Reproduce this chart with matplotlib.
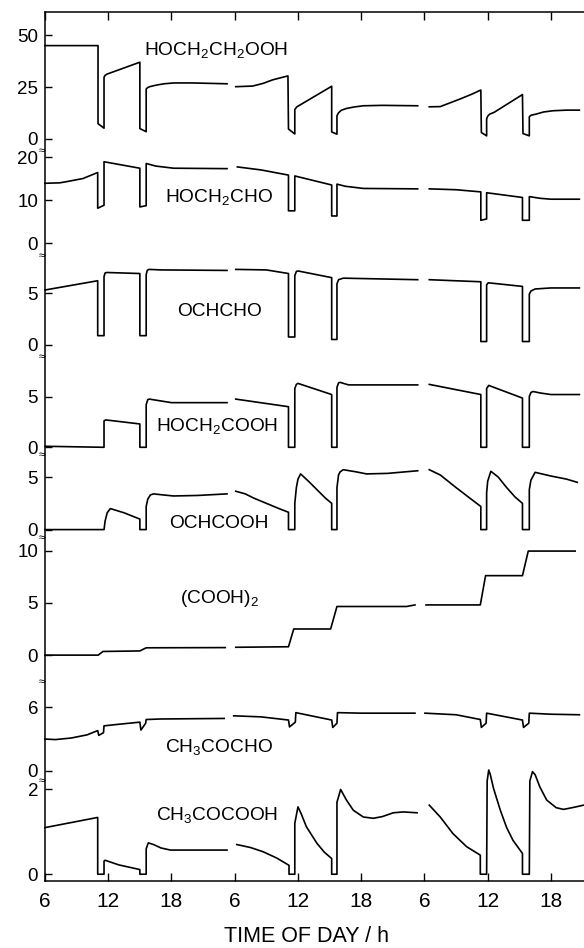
import numpy as np
import matplotlib
matplotlib.use("Agg")
import matplotlib.pyplot as plt

plt.rcParams['font.family'] = ['Liberation Sans', 'DejaVu Sans']
plt.rcParams['mathtext.default'] = 'regular'

nan = np.nan

# x positions in "hours" along the axis; tick labels repeat each day
x_ticks = [6, 12, 18, 24, 30, 36, 42, 48, 54]
x_tick_labels = ['6', '12', '18', '6', '12', '18', '6', '12', '18']

# HOCH2CH2OOH
t_hp = [6, 11.03, 11.03, 11.6, 11.6, 11.7, 11.85, 15.0, 15.0, 15.6, 15.6, 15.75, 16.0, 16.6, 17.3, 18.2, 20.0, 23.27, nan,
        24.1, 25.7, 26.7, 27.6, 29.05, 29.1, 29.7, 29.7, 29.9, 33.2, 33.2, 33.7, 33.7, 33.85, 34.1, 34.6, 35.3, 36.2, 38.0, 41.36, nan,
        42.46, 43.5, 45.4, 46.5, 47.35, 47.4, 47.9, 47.9, 48.0, 48.2, 48.6, 51.3, 51.35, 51.95, 51.95, 52.1, 52.6, 53.3, 54.2, 55.5, 56.7]
v_hp = [45, 45, 7.4, 5.2, 29.8, 30.6, 31.2, 37, 5.0, 3.5, 24.1, 24.8, 25.3, 26, 26.6, 27, 27, 26.6, nan,
        25.2, 25.5, 26.8, 28.5, 30.4, 4.8, 2.4, 14.2, 15.5, 25.4, 3.4, 2.3, 11.2, 12.6, 13.8, 14.7, 15.4, 16.0, 16.2, 16.0, nan,
        15.5, 15.6, 19.3, 21.6, 23.6, 3.1, 1.5, 9.6, 11.0, 12.0, 12.8, 21.4, 2.6, 1.5, 10.7, 11.4, 12.0, 13.0, 13.6, 13.9, 13.9]

# HOCH2CHO
t_ga = [6, 7.4, 8.1, 9.6, 11.0, 11.0, 11.6, 11.6, 15.0, 15.0, 15.6, 15.6, 16.5, 18.2, 23.27, nan,
        24.25, 26.5, 29.1, 29.1, 29.7, 29.7, 33.2, 33.2, 33.7, 33.7, 34.5, 36.2, 41.36, nan,
        42.46, 45.0, 47.35, 47.35, 47.9, 47.9, 51.3, 51.3, 51.95, 51.95, 53.0, 54.0, 56.7]
v_ga = [13.9, 14.0, 14.3, 15.0, 16.4, 8.1, 8.8, 18.9, 17.4, 8.4, 8.7, 18.5, 17.9, 17.4, 17.3, nan,
        17.7, 17.0, 15.8, 7.5, 7.5, 15.6, 13.5, 6.3, 6.3, 13.7, 13.2, 12.7, 12.6, nan,
        12.6, 12.4, 11.9, 5.3, 5.6, 11.7, 10.6, 5.3, 5.3, 10.8, 10.4, 10.2, 10.2]

# OCHCHO
t_gly = [6, 11.0, 11.0, 11.6, 11.6, 11.7, 11.85, 15.0, 15.0, 15.6, 15.6, 15.7, 15.85, 17.0, 23.27, nan,
         24.1, 27.0, 29.1, 29.1, 29.7, 29.7, 29.85, 30.0, 33.2, 33.2, 33.7, 33.7, 33.85, 34.3, 41.36, nan,
         42.46, 47.35, 47.35, 47.9, 47.9, 48.05, 51.3, 51.3, 51.95, 51.95, 52.1, 52.5, 54.0, 56.7]
v_gly = [5.3, 6.2, 0.87, 0.87, 6.6, 6.95, 7.0, 6.9, 0.87, 0.87, 6.8, 7.2, 7.3, 7.25, 7.2, nan,
         7.3, 7.25, 6.9, 0.74, 0.74, 6.7, 7.1, 7.15, 6.5, 0.5, 0.5, 5.9, 6.3, 6.45, 6.3, nan,
         6.3, 6.1, 0.3, 0.3, 5.8, 6.0, 5.65, 0.3, 0.3, 4.9, 5.2, 5.4, 5.5, 5.5]

# HOCH2COOH
t_gc = [6, 11.6, 11.6, 11.75, 15.0, 15.0, 15.6, 15.6, 15.75, 15.9, 18.0, 23.27, nan,
        24.1, 29.1, 29.1, 29.7, 29.7, 29.85, 30.0, 33.2, 33.2, 33.7, 33.7, 33.85, 34.0, 34.8, 41.36, nan,
        42.46, 47.35, 47.35, 47.9, 47.9, 48.1, 51.3, 51.3, 51.95, 51.95, 52.1, 52.3, 53.0, 54.0, 56.7]
v_gc = [0.1, 0.0, 2.6, 2.7, 2.3, 0.0, 0.0, 4.2, 4.7, 4.75, 4.4, 4.4, nan,
        4.75, 4.0, 0.0, 0.0, 5.8, 6.2, 6.3, 5.2, 0.0, 0.0, 5.9, 6.35, 6.4, 6.15, 6.15, nan,
        6.2, 5.2, 0.0, 0.0, 5.8, 6.1, 4.85, 0.0, 0.0, 5.0, 5.4, 5.5, 5.35, 5.2, 5.2]

# OCHCOOH
t_gx = [6, 11.6, 11.7, 11.9, 12.2, 13.5, 15.0, 15.0, 15.6, 15.6, 15.75, 16.0, 16.3, 17.2, 18.2, 20.5, 23.27, nan,
        24.1, 25.0, 25.8, 27.0, 28.2, 29.1, 29.1, 29.7, 29.7, 29.85, 30.0, 30.25, 31.0, 31.8, 32.6, 33.2, 33.2, 33.7, 33.7,
        33.85, 34.0, 34.3, 35.5, 36.5, 38.5, 41.36, nan,
        42.46, 43.5, 45.0, 46.3, 47.35, 47.35, 47.9, 47.9, 48.0, 48.3, 49.0, 49.8, 50.6, 51.3, 51.3, 51.95, 51.95, 52.1,
        52.5, 54.0, 55.5, 56.5]
v_gx = [0, 0, 0.8, 1.6, 2.0, 1.6, 1.0, 0.0, 0.0, 2.2, 2.9, 3.3, 3.4, 3.3, 3.2, 3.25, 3.4, nan,
        3.65, 3.4, 3.0, 2.5, 2.0, 1.65, 0.0, 0.0, 2.5, 4.0, 4.8, 5.3, 4.6, 3.8, 3.0, 2.5, 0.0, 0.0, 4.0,
        5.2, 5.5, 5.7, 5.5, 5.3, 5.35, 5.6, nan,
        5.7, 5.2, 4.0, 3.0, 2.2, 0.0, 0.0, 3.5, 4.6, 5.55, 5.0, 4.0, 3.1, 2.5, 0.0, 0.0, 3.8, 4.7,
        5.45, 5.1, 4.8, 4.5]

# (COOH)2
t_ox = [6, 11.05, 11.5, 15.0, 15.6, 23.1, nan,
        24.1, 29.1, 29.6, 33.1, 33.7, 40.3, 41.1, nan,
        42.15, 47.3, 47.8, 51.3, 51.85, 56.3]
v_ox = [0, 0, 0.35, 0.4, 0.7, 0.72, nan,
        0.75, 0.8, 2.5, 2.5, 4.65, 4.65, 4.8, nan,
        4.8, 4.8, 7.6, 7.6, 9.95, 9.95]

# CH3COCHO
t_mg = [6, 7.0, 8.5, 10.0, 11.0, 11.1, 11.55, 11.6, 13.0, 15.0, 15.1, 15.55, 15.6, 17.0, 23.0, nan,
        23.9, 26.5, 29.1, 29.2, 29.75, 29.8, 33.2, 33.3, 33.7, 33.75, 36.0, 41.1, nan,
        42.05, 45.0, 47.3, 47.4, 47.85, 47.9, 51.3, 51.4, 51.9, 51.95, 54.0, 56.7]
v_mg = [3.0, 2.95, 3.1, 3.4, 3.8, 3.35, 3.6, 4.25, 4.4, 4.6, 3.85, 4.5, 4.85, 4.9, 4.95, nan,
        5.2, 5.1, 4.8, 4.15, 4.6, 5.5, 4.8, 4.1, 4.5, 5.5, 5.45, 5.45, nan,
        5.45, 5.3, 4.85, 4.1, 4.5, 5.45, 4.8, 4.1, 4.5, 5.45, 5.35, 5.3]

# CH3COCOOH
t_pa = [6, 11.0, 11.0, 11.6, 11.6, 11.7, 13.0, 15.0, 15.0, 15.6, 15.6, 15.8, 16.3, 17.0, 17.9, 20.0, 23.27, nan,
        24.2, 25.5, 26.7, 28.0, 29.15, 29.15, 29.7, 29.7, 30.0, 30.3, 30.8, 31.8, 32.5, 33.2, 33.2, 33.7, 33.7,
        34.05, 34.6, 35.25, 36.2, 37.15, 38.0, 39.05, 40.0, 41.3, nan,
        42.46, 43.5, 44.7, 46.0, 47.3, 47.3, 47.9, 47.95, 48.1, 48.25, 48.55, 49.2, 49.8, 50.4, 51.3, 51.3,
        51.95, 52.0, 52.25, 52.5, 52.95, 53.6, 54.5, 55.2, 56.2, 57.1]
v_pa = [1.1, 1.34, 0, 0, 0.31, 0.33, 0.22, 0.11, 0, 0, 0.6, 0.74, 0.7, 0.62, 0.57, 0.57, 0.57, nan,
        0.7, 0.63, 0.53, 0.38, 0.21, 0, 0, 1.2, 1.59, 1.43, 1.12, 0.73, 0.52, 0.37, 0, 0, 1.7,
        2.0, 1.75, 1.51, 1.35, 1.32, 1.36, 1.45, 1.47, 1.45, nan,
        1.63, 1.35, 0.96, 0.65, 0.45, 0, 0, 2.2, 2.46, 2.35, 2.03, 1.51, 1.1, 0.8, 0.49, 0,
        0, 2.2, 2.42, 2.35, 2.06, 1.75, 1.57, 1.53, 1.58, 1.63]

# data, label, y ticks, y limits, label x (hours), label baseline (axes fraction)
panels = [
    (t_hp, v_hp, 'HOCH$_2$CH$_2$OOH', [0, 25, 50], (-5.8, 61.2), 15.4, 0.69),
    (t_ga, v_ga, 'HOCH$_2$CHO', [0, 10, 20], (-3.0, 21.4), 17.4, 0.517),
    (t_gly, v_gly, 'OCHCHO', [0, 5], (-1.2, 8.6), 18.5, 0.406),
    (t_gc, v_gc, 'HOCH$_2$COOH', [0, 5], (-0.76, 8.9), 16.55, 0.245),
    (t_gx, v_gx, 'OCHCOOH', [0, 5], (-0.8, 7.1), 17.8, 0.124),
    (t_ox, v_ox, '(COOH)$_2$', [0, 5, 10], (-2.57, 11.2), 18.8, 0.547),
    (t_mg, v_mg, 'CH$_3$COCHO', [0, 6], (-0.97, 8.4), 17.4, 0.296),
    (t_pa, v_pa, 'CH$_3$COCOOH', [0, 2], (-0.16, 2.2), 16.55, 0.61),
]

# panel boundaries in pixels (from top of figure)
W, H = 584, 948
edges = [12, 151, 256, 357, 455, 538, 682, 781, 881]
left = 45
px_per_hour = 10.54

fig = plt.figure(figsize=(W / 100, H / 100), dpi=100)

for i, (t, v, name, yt, ylim, lx, ly) in enumerate(panels):
    top, bot = edges[i], edges[i + 1]
    ax = fig.add_axes([left / W, 1 - bot / H, (W - left) / W, (bot - top) / H])
    ax.plot(t, v, color='black', lw=1.2, clip_on=False)
    ax.set_xlim(6, 6 + (W - left) / px_per_hour)
    ax.set_ylim(*ylim)
    ax.set_yticks(yt)
    ax.tick_params(axis='y', direction='in', length=5, width=1, pad=5, labelsize=13.5)
    ax.spines['right'].set_visible(False)
    ax.spines['top'].set_visible(i == 0)
    ax.spines['bottom'].set_visible(i == len(panels) - 1)
    for s in ax.spines.values():
        s.set_linewidth(1.1)
    ax.set_xticks(x_ticks)
    if i == 0:
        ax.tick_params(axis='x', top=True, bottom=False, labelbottom=False,
                       direction='in', length=6, width=1)
    elif i == len(panels) - 1:
        ax.set_xticklabels(x_tick_labels)
        ax.tick_params(axis='x', direction='in', length=6, width=1, pad=8, labelsize=15)
    else:
        ax.tick_params(axis='x', bottom=False, labelbottom=False)
    ax.text(lx, ly, name, transform=ax.get_xaxis_transform(),
            fontsize=13.8, ha='left', va='baseline')

# axis break marks
for yb in edges[1:-1]:
    fig.text(42 / W, 1 - yb / H, '≈', fontsize=8, ha='center', va='center')

fig.text(306.7 / W, 6 / H, 'TIME OF DAY / h', fontsize=15.5, ha='center', va='baseline')

fig.savefig('out.png', dpi=100)
